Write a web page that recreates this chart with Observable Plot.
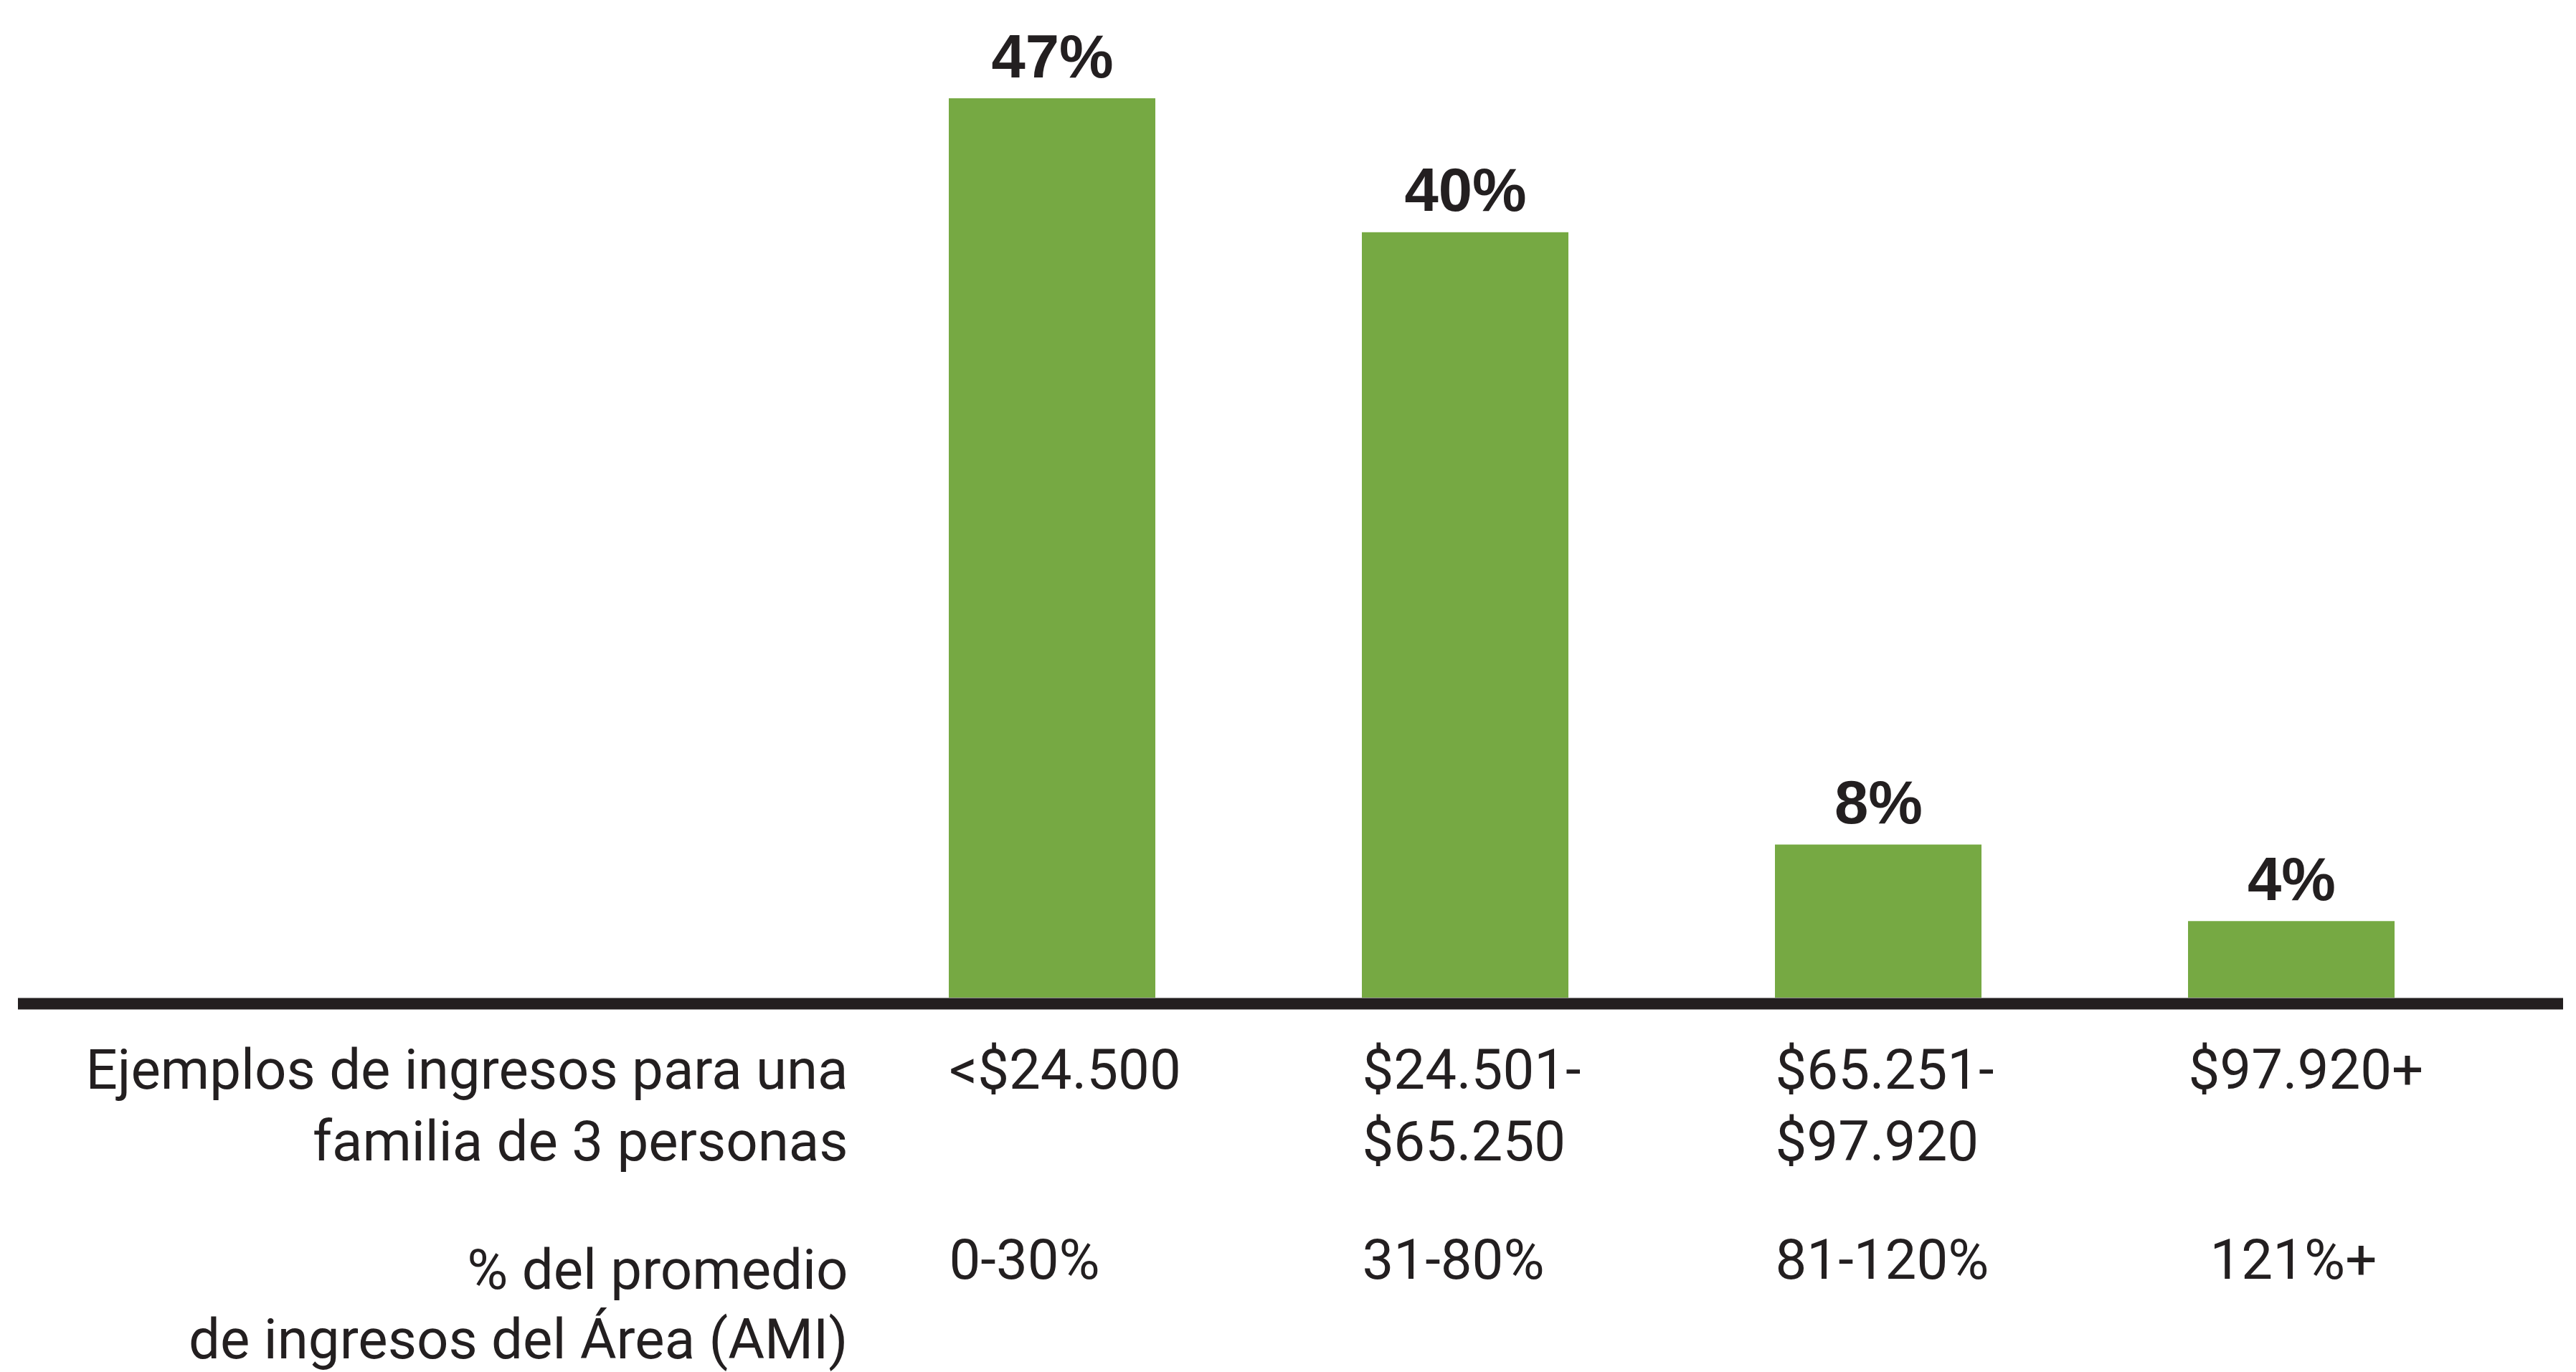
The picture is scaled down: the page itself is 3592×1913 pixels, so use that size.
<!DOCTYPE html>
<html>
<head>
<meta charset="utf-8">
<script src="https://cdn.jsdelivr.net/npm/d3@7"></script>
<script src="https://cdn.jsdelivr.net/npm/@observablehq/plot@0.6"></script>
<style>
  html, body { margin: 0; padding: 0; background: #ffffff; }
  #chart svg { display: block; }
</style>
</head>
<body>
<div id="chart"></div>
<script>
// AMI brackets (x categories)
const amiBrackets = ["0-30%", "31-80%", "81-120%", "121%+"];
// Example incomes for a family of 3
const incomeRanges = ["<$24.500", "$24.501-\n$65.250", "$65.251-\n$97.920", "$97.920+"];
// Share of households (%)
const shares = [47, 40, 8, 4];
const valueLabels = ["47%", "40%", "8%", "4%"];
// Row headers
const incomeHeader = "Ejemplos de ingresos para una\nfamilia de 3 personas";
const amiHeader = "% del promedio\nde ingresos del Área (AMI)";

const data = amiBrackets.map((a, i) => ({
  ami: a, income: incomeRanges[i], share: shares[i], label: valueLabels[i]
}));

const ink = "#231f20";
const green = "#76a943";
const regular = "Roboto, 'Liberation Sans', Arial, sans-serif";
const bold = "'Liberation Sans', Arial, sans-serif";
const fsReg = 78;

const chart = Plot.plot({
  width: 3592,
  height: 1913,
  marginLeft: 25,
  marginRight: 18,
  marginTop: 0,
  marginBottom: 0,
  style: { background: "#ffffff", color: ink },
  x: { domain: amiBrackets, range: [1179, 3483], paddingInner: 0.5, paddingOuter: 0.25, axis: null },
  y: { domain: [0, 50], range: [1391, 1391 - 50 * 26.68], axis: null },
  marks: [
    Plot.barY(data, { x: "ami", y: "share", fill: green }),
    Plot.ruleY([0], { stroke: ink, strokeWidth: 16, dy: 8 }),
    Plot.text(data, {
      x: "ami", y: "share", text: "label",
      lineAnchor: "bottom", dy: -30,
      fontFamily: bold, fontWeight: "bold", fontSize: 85, fill: ink
    }),
    // income row
    Plot.text(data, {
      x: "ami", y: () => 0, text: "income",
      textAnchor: "start", lineAnchor: "top", dx: -144, dy: 56, lineHeight: 1.28,
      fontFamily: regular, fontSize: fsReg, fill: ink
    }),
    // AMI row
    Plot.text(data.filter(d => d.ami !== "121%+"), {
      x: "ami", y: () => 0, text: "ami",
      textAnchor: "start", lineAnchor: "top", dx: -144, dy: 336,
      fontFamily: regular, fontSize: fsReg, fill: ink
    }),
    Plot.text(data.filter(d => d.ami === "121%+"), {
      x: "ami", y: () => 0, text: "ami",
      textAnchor: "start", lineAnchor: "top", dx: -114, dy: 336,
      fontFamily: regular, fontSize: fsReg, fill: ink
    }),
    // row headers
    Plot.text([incomeHeader], {
      x: () => amiBrackets[0], y: () => 0, text: d => d,
      textAnchor: "end", lineAnchor: "top", dx: -285, dy: 56, lineHeight: 1.28,
      fontFamily: regular, fontSize: fsReg, fill: ink
    }),
    Plot.text([amiHeader], {
      x: () => amiBrackets[0], y: () => 0, text: d => d,
      textAnchor: "end", lineAnchor: "top", dx: -285, dy: 336, lineHeight: 1.25,
      fontFamily: regular, fontSize: fsReg, fill: ink
    })
  ]
});

document.getElementById("chart").appendChild(chart);
</script>
</body>
</html>
